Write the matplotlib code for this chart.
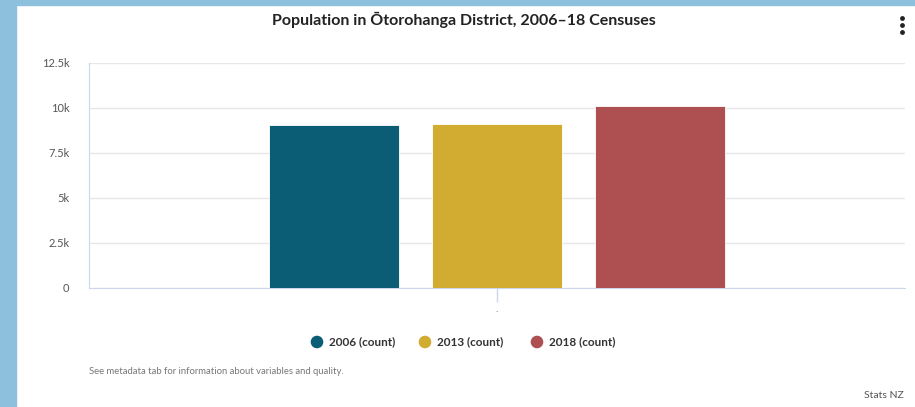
import matplotlib.pyplot as plt
from matplotlib.patches import Rectangle
import numpy as np

plt.rcParams['font.family'] = ['Lato', 'DejaVu Sans']

# data
years = ['2006 (count)', '2013 (count)', '2018 (count)']
counts = [9075, 9138, 10104]
colors = ['#0b5c75', '#d1ac31', '#ae4f51']
yticks = [0, 2500, 5000, 7500, 10000, 12500]
ytick_labels = ['0', '2.5k', '5k', '7.5k', '10k', '12.5k']

W, H = 915, 407
fig = plt.figure(figsize=(W / 100, H / 100), dpi=100)
fig.patch.set_facecolor('white')

# blue frame around the panel
fig.patches.append(Rectangle((0, 0), 16 / W, 1, transform=fig.transFigure,
                             color='#8dc0dd', zorder=0))
fig.patches.append(Rectangle((0, 1 - 5 / H), 1, 5 / H, transform=fig.transFigure,
                             color='#8dc0dd', zorder=0))

# plot area: x 89..905, y 63..288 (pixels from top)
ax = fig.add_axes([89 / W, 1 - 288 / H, (905 - 89) / W, (288 - 63) / H])
ax.set_xlim(-0.5, 0.5)
ax.set_ylim(0, 12500)

offsets = [-0.2, 0, 0.2]
for off, c, col in zip(offsets, counts, colors):
    ax.bar(off, c, width=0.16, color=col, edgecolor='white', linewidth=0.6, zorder=3)

ax.set_yticks(yticks)
ax.set_yticklabels(ytick_labels, fontsize=8, color='#555555')
ax.yaxis.grid(True, color='#e6e6e6', linewidth=1, zorder=0)
ax.tick_params(axis='y', length=0, pad=14)
ax.set_xticks([0])
ax.set_xticklabels(['.'], fontsize=7, color='#555555')
ax.tick_params(axis='x', length=10, color='#ccd6eb', width=1, pad=2)
for s in ['top', 'right']:
    ax.spines[s].set_visible(False)
ax.spines['left'].set_color('#ccd6eb')
ax.spines['bottom'].set_color('#ccd6eb')
ax.set_ylabel('Number', fontsize=8, color='#555555', labelpad=20)

fig.text(464 / W, 1 - 20 / H, 'Population in Ōtorohanga District, 2006–18 Censuses',
         ha='center', va='center', fontsize=11.5, fontweight='bold', color='#222222')

# overlay axes in pixel coordinates for menu and legend markers
ov = fig.add_axes([0, 0, 1, 1], facecolor='none')
ov.set_xlim(0, W)
ov.set_ylim(H, 0)
ov.axis('off')

# kebab menu
ov.scatter([902, 902, 902], [18, 25, 32], s=6, color='#222222')

# legend
leg_x = [317, 425, 537]
ov.scatter(leg_x, [342] * 3, s=65, c=colors)
for x, lab in zip(leg_x, years):
    ov.text(x + 12, 342, lab, ha='left', va='center',
            fontsize=8.5, fontweight='bold', color='#333333')

ov.text(89, 372, 'See metadata tab for information about variables and quality.',
        ha='left', va='center', fontsize=6.8, color='#777777')
ov.text(904, 395, 'Stats NZ', ha='right', va='center',
        fontsize=7.5, color='#555555')

fig.savefig('out.png', dpi=100, facecolor='white')
